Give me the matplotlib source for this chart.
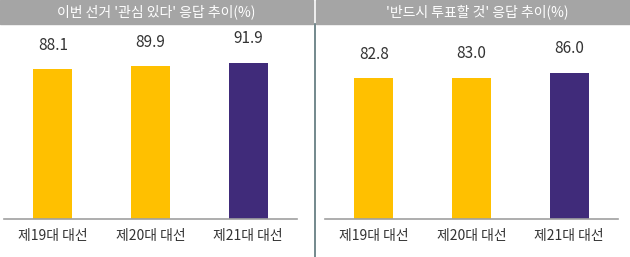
import matplotlib
matplotlib.use("Agg")
import matplotlib.pyplot as plt
from matplotlib.patches import Rectangle
from matplotlib.lines import Line2D

plt.rcParams['font.family'] = ['Noto Sans CJK KR', 'DejaVu Sans']

categories = ['제19대 대선', '제20대 대선', '제21대 대선']
interest = [88.1, 89.9, 91.9]
must_vote = [82.8, 83.0, 86.0]
titles = ["이번 선거 '관심 있다' 응답 추이(%)", "'반드시 투표할 것' 응답 추이(%)"]
colors = ['#FFC000', '#FFC000', '#402B7A']

W, H = 630, 257
fig = plt.figure(figsize=(W / 100, H / 100), dpi=100)

# 헤더 회색 띠
fig.patches.append(Rectangle((0, 1 - 24 / H), 313 / W, 24 / H, transform=fig.transFigure,
                             color='#A5A5A5', zorder=0))
fig.patches.append(Rectangle((316 / W, 1 - 24 / H), 314 / W, 24 / H, transform=fig.transFigure,
                             color='#A5A5A5', zorder=0))
# 가운데 구분선
fig.lines.append(Line2D([314.5 / W, 314.5 / W], [0, 1 - 24 / H], transform=fig.transFigure,
                        color='#5B7479', lw=1.2))

panels = [(4, interest, titles[0], 156), (325, must_vote, titles[1], 477)]
for left, vals, title, tx in panels:
    ax = fig.add_axes([left / W, 38 / H, 293 / W, 189 / H])
    x = range(len(categories))
    ax.bar(x, vals, width=0.4, color=colors)
    for i, v in enumerate(vals):
        ax.text(i, v + 9, f'{v:.1f}', ha='center', va='bottom', fontsize=11, color='#333333')
    ax.set_xlim(-0.5, 2.5)
    ax.set_ylim(0, 111)
    ax.set_xticks(list(x))
    ax.set_xticklabels(categories, fontsize=10, color='#333333')
    ax.tick_params(axis='x', length=0, pad=7)
    ax.set_yticks([])
    for s in ['top', 'left', 'right']:
        ax.spines[s].set_visible(False)
    ax.spines['bottom'].set_color('#A0A0A0')
    ax.spines['bottom'].set_linewidth(1.2)
    fig.text(tx / W, 1 - 12 / H, title, ha='center', va='center', color='white', fontsize=10)

fig.savefig('out.png', dpi=100)
